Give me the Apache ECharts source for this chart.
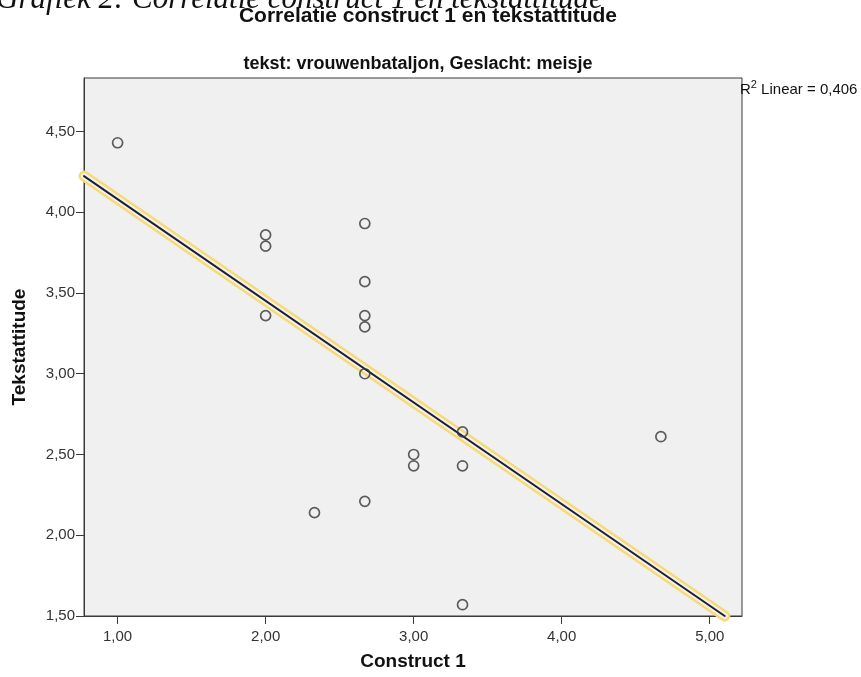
<!DOCTYPE html>
<html>
<head>
<meta charset="utf-8">
<script src="https://cdn.jsdelivr.net/npm/echarts@6/dist/echarts.min.js"></script>
<style>
html,body{margin:0;padding:0;background:#fff;}
#chart{width:861px;height:677px;}
</style>
</head>
<body>
<div id="chart"></div>
<script>
// ---- data ----
const constructValues = [1.00, 2.00, 2.00, 2.00, 2.67, 2.67, 2.67, 2.67, 2.67, 2.67, 2.33, 3.00, 3.00, 3.33, 3.33, 3.33, 4.67];
const attitudeValues  = [4.43, 3.86, 3.79, 3.36, 3.93, 3.57, 3.36, 3.29, 3.00, 2.21, 2.14, 2.50, 2.43, 2.64, 2.43, 1.57, 2.61];
const xTickValues = [1, 2, 3, 4, 5];
const yTickValues = [1.5, 2.0, 2.5, 3.0, 3.5, 4.0, 4.5];
const xRange = [0.773, 5.218];
const yRange = [1.5, 4.831];
const r2Text = '0,406';

// ---- build ----
const points = constructValues.map((x, i) => [x, attitudeValues[i]]);
const n = points.length;
const mx = constructValues.reduce((a, b) => a + b, 0) / n;
const my = attitudeValues.reduce((a, b) => a + b, 0) / n;
let sxy = 0, sxx = 0;
points.forEach(([x, y]) => { sxy += (x - mx) * (y - my); sxx += (x - mx) * (x - mx); });
const slope = sxy / sxx;
const intercept = my - slope * mx;
const x0 = xRange[0], y0 = intercept + slope * x0;
const x1 = (yRange[0] - intercept) / slope, y1 = yRange[0];
const fitLine = [[x0, y0], [x1, y1]];

const fmt = v => v.toFixed(2).replace('.', ',');

const chart = echarts.init(document.getElementById('chart'), null, {renderer: 'canvas'});
const font = 'Liberation Sans, Arial, sans-serif';

chart.setOption({
  animation: false,
  backgroundColor: '#ffffff',
  grid: {
    left: 84, right: 119, top: 78, bottom: 61,
    show: true, backgroundColor: '#f0f0f0', borderColor: '#3a3a3a', borderWidth: 1
  },
  xAxis: {
    type: 'value', min: xRange[0], max: xRange[1],
    name: 'Construct 1', nameLocation: 'middle', nameGap: 36,
    nameTextStyle: {fontFamily: font, fontSize: 19, fontWeight: 'bold', color: '#111'},
    axisLine: {show: true, onZero: false, lineStyle: {color: '#3a3a3a', width: 1}},
    axisTick: {show: true, length: 8, customValues: xTickValues, lineStyle: {color: '#3a3a3a'}},
    axisLabel: {customValues: xTickValues, formatter: fmt, fontFamily: font, fontSize: 15, color: '#333', margin: 13},
    splitLine: {show: false}
  },
  yAxis: {
    type: 'value', min: yRange[0], max: yRange[1],
    name: 'Tekstattitude', nameLocation: 'middle', nameGap: 55,
    nameTextStyle: {fontFamily: font, fontSize: 19, fontWeight: 'bold', color: '#111'},
    axisLine: {show: true, onZero: false, lineStyle: {color: '#3a3a3a', width: 1}},
    axisTick: {show: true, length: 8, customValues: yTickValues, lineStyle: {color: '#3a3a3a'}},
    axisLabel: {customValues: yTickValues, formatter: fmt, fontFamily: font, fontSize: 15, color: '#333', margin: 9},
    splitLine: {show: false}
  },
  series: [
    {
      type: 'line', data: fitLine, symbol: 'none', silent: true, z: 2, clip: false,
      lineStyle: {color: '#f5da78', width: 11, cap: 'round'}
    },
    {
      type: 'line', data: fitLine, symbol: 'none', silent: true, z: 3, clip: false,
      lineStyle: {color: '#f6f3e4', width: 6, cap: 'round'}
    },
    {
      type: 'line', data: fitLine, symbol: 'none', silent: true, z: 4, clip: false,
      lineStyle: {color: '#1e1e3c', width: 2, cap: 'round'}
    },
    {
      type: 'scatter', data: points, symbol: 'circle', symbolSize: 10, z: 5,
      itemStyle: {color: 'rgba(0,0,0,0)', borderColor: '#363636', borderWidth: 1.7}
    }
  ],
  graphic: [
    {
      type: 'text', left: -4, top: -16, z: 10,
      style: {text: 'Grafiek 2: Correlatie construct 1 en tekstattitude',
        font: 'italic 31px "Liberation Serif", "Times New Roman", serif', fill: '#111'}
    },
    {
      type: 'text', x: 428, y: 16, z: 10,
      style: {text: 'Correlatie construct 1 en tekstattitude', textAlign: 'center', textVerticalAlign: 'middle',
        font: 'bold 21px "Liberation Sans", Arial, sans-serif', fill: '#111'}
    },
    {
      type: 'text', x: 418, y: 64, z: 10,
      style: {text: 'tekst: vrouwenbataljon, Geslacht: meisje', textAlign: 'center', textVerticalAlign: 'middle',
        font: 'bold 18px "Liberation Sans", Arial, sans-serif', fill: '#111'}
    },
    {
      type: 'text', x: 740, y: 79, z: 10,
      style: {
        text: '{s|R}{sup|2}{s| Linear = ' + r2Text + '}',
        rich: {
          s: {fontFamily: font, fontSize: 15, fill: '#111', verticalAlign: 'bottom', lineHeight: 18},
          sup: {fontFamily: font, fontSize: 11, fill: '#111', verticalAlign: 'top', lineHeight: 18, padding: [0, 0, 7, 0]}
        }
      }
    }
  ]
});
</script>
</body>
</html>
